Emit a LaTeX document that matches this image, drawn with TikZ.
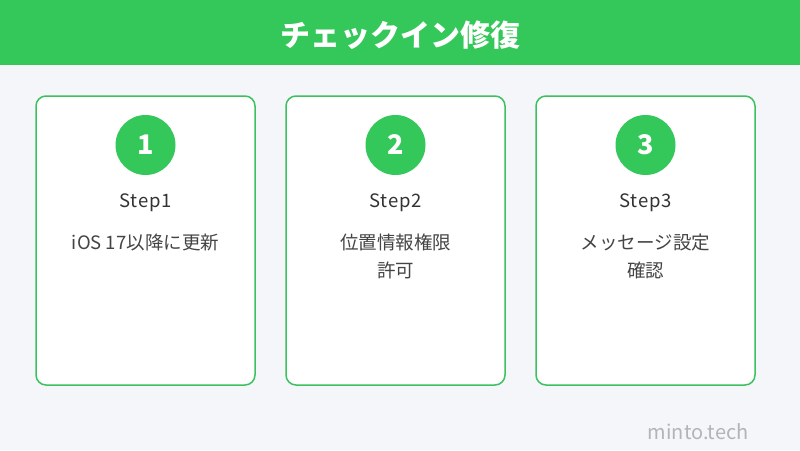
\documentclass[tikz,border=0pt]{standalone}
\usepackage{fontspec}
\setmainfont{Noto Sans CJK JP}
\newfontfamily\steplatin{Noto Sans CJK JP}[LetterSpace=4]
\definecolor{hdrgreen}{HTML}{34C759}
\definecolor{pagebg}{HTML}{F5F6FA}
\definecolor{cardborder}{HTML}{3CC160}
\definecolor{steptext}{HTML}{333333}
\definecolor{bodytext}{HTML}{444444}
\definecolor{marktext}{HTML}{B2B4BA}
\tikzset{
  card/.style={draw=cardborder, line width=1.5pt, fill=white, rounded corners=10pt},
  numcircle/.style={circle, fill=hdrgreen, minimum size=60pt, inner sep=0pt, text=white, font=\fontsize{27}{30}\selectfont\bfseries},
  steplabel/.style={text=steptext, font=\steplatin\fontsize{18.5}{22}\selectfont},
  bodylabel/.style={text=bodytext, font=\fontsize{18.5}{28}\selectfont, align=center, anchor=north},
}
\begin{document}
\begin{tikzpicture}[x=1pt,y=-1pt]
\useasboundingbox (0,0) rectangle (800,450);
\fill[pagebg] (0,0) rectangle (800,450);
\fill[hdrgreen] (0,0) rectangle (800,65);
\node[text=white, font=\fontsize{30}{34}\selectfont\bfseries] (title) at (400,35) {チェックイン修復};
% cards
\draw[card] (36,96) rectangle (255,385);
\draw[card] (286,96) rectangle (505,385);
\draw[card] (536,96) rectangle (755,385);
\node[numcircle] (c1) at (145.5,145) {1};
\node[numcircle] (c2) at (395.5,145) {2};
\node[numcircle] (c3) at (645.5,145) {3};
\node[steplabel] (s1) at (145.5,203) {Step1};
\node[steplabel] (s2) at (395.5,203) {Step2};
\node[steplabel] (s3) at (645.5,203) {Step3};
\node[bodylabel] (b1) at (145.5,230) {iOS 17以降に更新};
\node[bodylabel] (b2) at (395.5,230) {位置情報権限\\許可};
\node[bodylabel] (b3) at (645.5,230) {メッセージ設定\\確認};
\node[text=marktext, font=\fontsize{20}{24}\selectfont, anchor=east] (mark) at (752,432) {minto.tech};
\end{tikzpicture}
\end{document}
